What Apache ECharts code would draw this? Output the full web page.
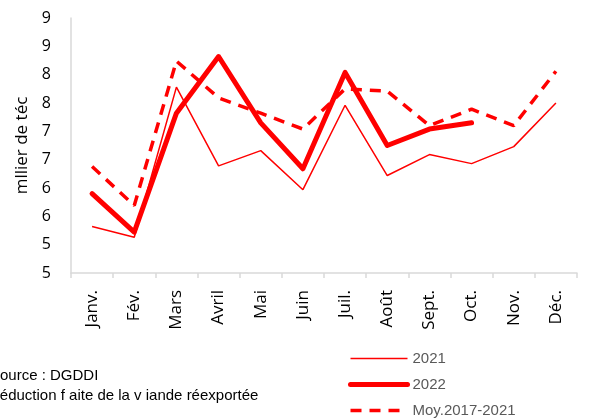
<!DOCTYPE html>
<html>
<head>
<meta charset="utf-8">
<script src="https://cdn.jsdelivr.net/npm/echarts@6/dist/echarts.min.js"></script>
<style>
  html, body { margin: 0; padding: 0; background: #fff; }
  #main { width: 595px; height: 419px; }
</style>
</head>
<body>
<div id="main"></div>
<script>
var mois = ['Janv.', 'Fév.', 'Mars', 'Avril', 'Mai', 'Juin', 'Juil.', 'Août', 'Sept.', 'Oct.', 'Nov.', 'Déc.'];
var an2021 = [5.32, 5.13, 7.78, 6.39, 6.66, 5.97, 7.46, 6.22, 6.59, 6.43, 6.73, 7.5];
var an2022 = [5.90, 5.22, 7.32, 8.32, 7.15, 6.34, 8.04, 6.75, 7.04, 7.15];
var moyenne = [6.38, 5.69, 8.24, 7.59, 7.32, 7.04, 7.75, 7.71, 7.10, 7.39, 7.10, 8.06];

var rouge = '#ff0000';
var myChart = echarts.init(document.getElementById('main'));

var option = {
    animation: false,
    backgroundColor: '#fff',
    grid: {left: 71, right: 18, top: 18, bottom: 146},
    legend: {
        orient: 'vertical',
        left: 343,
        top: 346,
        height: 100,
        itemWidth: 57,
        itemHeight: 14,
        itemGap: 11,
        itemStyle: {opacity: 0},
        textStyle: {color: '#595959', fontSize: 15, fontFamily: 'Liberation Sans'},
        data: [
            {name: '2021', lineStyle: {width: 1.5}},
            {name: '2022', lineStyle: {width: 5}},
            {name: 'Moy.2017-2021', lineStyle: {width: 3.5, type: [11, 8]}}
        ]
    },
    xAxis: {
        type: 'category',
        data: mois,
        boundaryGap: true,
        axisLine: {lineStyle: {color: '#d9d9d9', width: 1.5}},
        axisTick: {show: true, length: 5, lineStyle: {color: '#d9d9d9', width: 1.5}},
        axisLabel: {
            rotate: 90, color: '#000', fontSize: 17, fontFamily: 'Open Sans',
            margin: 17, interval: 0
        }
    },
    yAxis: {
        type: 'value',
        min: 4.5,
        max: 9,
        interval: 0.5,
        name: 'mllier de téc',
        nameLocation: 'middle',
        nameRotate: 90,
        nameGap: 40,
        nameTextStyle: {color: '#000', fontSize: 17, fontFamily: 'Open Sans'},
        axisLine: {show: true, lineStyle: {color: '#d9d9d9', width: 1.5}},
        axisTick: {show: false},
        splitLine: {show: false},
        axisLabel: {
            color: '#000', fontSize: 16, fontFamily: 'Open Sans', margin: 20,
            formatter: function (v) { return String(Math.round(v)); }
        }
    },
    series: [
        {
            name: '2021', type: 'line', data: an2021, symbol: 'none',
            lineStyle: {color: rouge, width: 1.5},
            itemStyle: {color: rouge}
        },
        {
            name: '2022', type: 'line', data: an2022, symbol: 'none',
            lineStyle: {color: rouge, width: 5, cap: 'round', join: 'round'},
            itemStyle: {color: rouge}
        },
        {
            name: 'Moy.2017-2021', type: 'line', data: moyenne, symbol: 'none',
            lineStyle: {color: rouge, width: 3.5, type: [11, 8]},
            itemStyle: {color: rouge}
        }
    ],
    graphic: [
        {type: 'text', left: -10, top: 368, style: {text: 'Source : DGDDI', fill: '#000', font: '15px "Liberation Sans"'}},
        {type: 'text', left: -11, top: 388, style: {text: 'Réduction f aite de la v iande réexportée', fill: '#000', font: '15px "Liberation Sans"'}}
    ]
};
myChart.setOption(option);
</script>
</body>
</html>
